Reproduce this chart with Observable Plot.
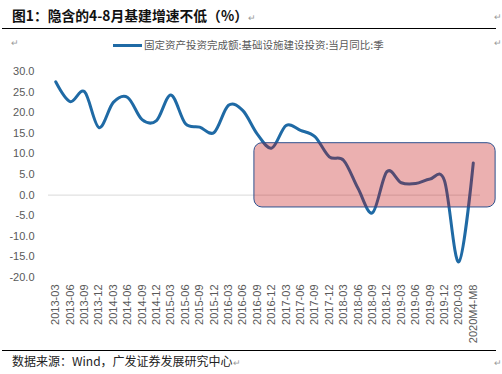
<!DOCTYPE html>
<html><head><meta charset="utf-8">
<script src="https://cdn.jsdelivr.net/npm/d3@7"></script>
<script src="https://cdn.jsdelivr.net/npm/@observablehq/plot@0.6"></script>
<style>
body{margin:0;width:502px;height:374px;position:relative;background:#fff;overflow:hidden;font-family:"Noto Sans CJK SC","Noto Sans",sans-serif;}
.abs{position:absolute;white-space:nowrap;line-height:1;}
#title{left:12px;top:9px;font-size:13.8px;font-weight:bold;color:#111;}
.rule{position:absolute;left:2px;width:494px;height:0;border-top:1.5px solid #000;}
.pm{color:#9a9a9a;font-size:9px;font-weight:normal;}
#legend{left:113px;top:40px;font-size:10.5px;color:#595959;display:flex;align-items:center;}
#legend .sw{width:29px;height:3px;background:#1f6aa5;margin-right:2px;}
#chart{position:absolute;left:0;top:60px;}
#source{left:12px;top:355px;font-size:12px;color:#222;}
</style></head><body>
<div class="abs" id="title">图1：隐含的4-8月基建增速不低（%）<span class="pm">↵</span></div>
<div class="rule" style="top:28px"></div>
<div class="abs pm" style="left:11px;top:38px">↵</div>
<div class="abs pm" style="left:494px;top:12px">↵</div>
<div class="abs pm" style="left:494px;top:38px">↵</div>
<div class="abs" id="legend"><span class="sw"></span><span>固定资产投资完成额:基础设施建设投资:当月同比:季</span></div>
<div id="chart"></div>
<div class="rule" style="top:350px"></div>
<div class="abs" id="source">数据来源：Wind，广发证券发展研究中心<span class="pm">↵</span></div>
<div class="abs pm" style="left:494px;top:358px">↵</div>
<script>
const categories = ["2013-03","2013-06","2013-09","2013-12","2014-03","2014-06","2014-09","2014-12",
  "2015-03","2015-06","2015-09","2015-12","2016-03","2016-06","2016-09","2016-12",
  "2017-03","2017-06","2017-09","2017-12","2018-03","2018-06","2018-09","2018-12",
  "2019-03","2019-06","2019-09","2019-12","2020-03","2020M4-M8"];
const values = [27.5,22.7,25.1,16.4,22.5,23.7,18.3,18.1,
  24.3,17.4,16.5,15.2,21.8,20.5,14.8,11.4,
  16.9,15.7,14.2,9.3,8.4,1.6,-4.3,5.7,
  3.0,2.8,3.9,3.5,-16.2,7.8];
const yTicks = [-20,-15,-10,-5,0,5,10,15,20,25,30];
// highlight box, in category-index / percent units
const boxX = [13.8, 30.55];
const boxY = [-3.0, 12.6];

const data = categories.map((c, i) => ({i, c, v: values[i]}));
const chart = Plot.plot({
  width: 502, height: 285,
  marginLeft: 48, marginRight: 22, marginTop: 11, marginBottom: 68,
  style: {fontFamily: '"Liberation Sans", Arial, sans-serif', fontSize: "11px", color: "#595959", background: "transparent", overflow: "visible"},
  x: {domain: [-0.5, categories.length - 0.5], axis: null},
  y: {domain: [-20, 30], axis: null},
  marks: [
    Plot.ruleY([0], {stroke: "#d9d9d9", strokeWidth: 1}),
    Plot.axisY({ticks: yTicks, tickSize: 0, tickPadding: 14, tickFormat: d => d.toFixed(1), label: null, fill: "#595959"}),
    Plot.axisX({ticks: d3.range(categories.length), tickFormat: i => categories[i], tickRotate: -90, tickSize: 0, tickPadding: 7, label: null, fill: "#595959"}),
    Plot.line(data, {x: "i", y: "v", stroke: "#1f6aa5", strokeWidth: 3, curve: d3.curveCatmullRom.alpha(0)}),
    Plot.rect([{x1: boxX[0], x2: boxX[1], y1: boxY[0], y2: boxY[1]}], {x1: "x1", x2: "x2", y1: "y1", y2: "y2", fill: "#c20f0f", fillOpacity: 0.33, stroke: "#2f528f", strokeWidth: 1, rx: 8, ry: 8})
  ]
});
document.getElementById("chart").appendChild(chart);
</script>
</body></html>
